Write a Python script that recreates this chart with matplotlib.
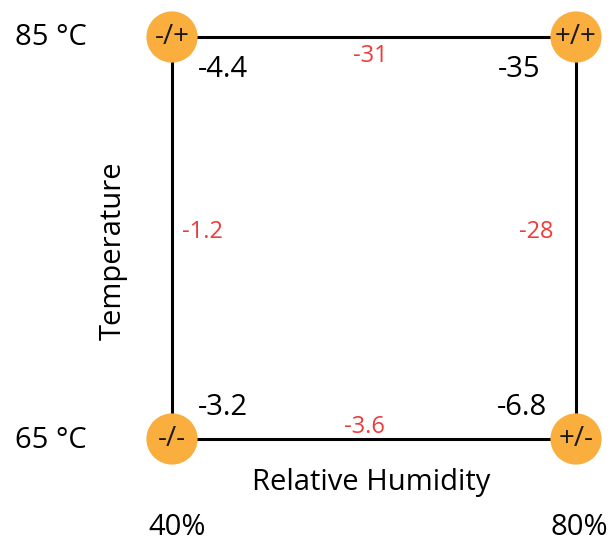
import matplotlib
matplotlib.use("Agg")
import matplotlib.pyplot as plt

plt.rcParams['font.family'] = ['Open Sans', 'DejaVu Sans']

# Design corners: relative humidity (%) and temperature (°C)
humidity = [40, 80]
temperature = [65, 85]
humidity_labels = ["40%", "80%"]
temperature_labels = ["65 °C", "85 °C"]

# Corner codes and measured values
corner_rh = [40, 80, 40, 80]
corner_t = [85, 85, 65, 65]
corner_code = ["-/+", "+/+", "-/-", "+/-"]
corner_value = ["-4.4", "-35", "-3.2", "-6.8"]

# Edge effects (red): top, left, right, bottom
edge_value = ["-31", "-1.2", "-28", "-3.6"]

W, H = 613, 541
fig = plt.figure(figsize=(W / 100, H / 100), dpi=100)
ax = fig.add_axes([0, 0, 1, 1])
# pixel mapping: 40% -> 172 px, 80% -> 576 px; 85 °C -> 37 px, 65 °C -> 439 px from top
PX0, PX1, PY1, PY0 = 172, 576, 37, 439
sx = (PX1 - PX0) / (humidity[1] - humidity[0])
sy = (PY0 - PY1) / (temperature[1] - temperature[0])
ax.set_xlim(humidity[0] - PX0 / sx, humidity[0] + (W - PX0) / sx)
ax.set_ylim(temperature[0] - (H - PY0) / sy, temperature[1] + PY1 / sy)
ax.axis("off")


def at(px, py):
    """Pixel position (from top-left) to data coordinates."""
    return humidity[0] + (px - PX0) / sx, temperature[1] - (py - PY1) / sy


orange = "#F9AE3E"
red = "#EE3B3B"

# square frame
x0, x1 = humidity
y0, y1 = temperature
ax.plot([x0, x1, x1, x0, x0], [y1, y1, y0, y0, y1], color="black", lw=2.2,
        solid_joinstyle="miter", zorder=1)

# corner markers
ax.scatter(corner_rh, corner_t, s=1360, color=orange, edgecolors="none", zorder=2)
for x, y, c in zip(corner_rh, corner_t, corner_code):
    ax.text(x, y, c, ha="center", va="center", fontsize=20, color="#1a1a1a", zorder=3)

# corner values (centre x, baseline in px)
value_pos = [(223, 77), (519, 77), (223, 415), (522, 415)]
for v, (px, py) in zip(corner_value, value_pos):
    ax.text(*at(px, py), v, ha="center", va="baseline", fontsize=21, color="black")

# edge values
edge_pos = [(370, 62), (202, 238), (536, 238), (364, 433)]
for v, (px, py) in zip(edge_value, edge_pos):
    ax.text(*at(px, py), v, ha="center", va="baseline", fontsize=17, color=red)

# axis titles
ax.text(*at(371, 490), "Relative Humidity", ha="center", va="baseline", fontsize=21)
ax.text(*at(113, 251), "Temperature", ha="center", va="center",
        rotation=90, fontsize=21)

# tick-style labels
for x, lab in zip([177, 579], humidity_labels):
    ax.text(*at(x, 535), lab, ha="center", va="baseline", fontsize=21)
for y, lab in zip([448, 45], temperature_labels):
    ax.text(*at(15, y), lab, ha="left", va="baseline", fontsize=21)

fig.savefig("out.png", dpi=100, facecolor="white")
